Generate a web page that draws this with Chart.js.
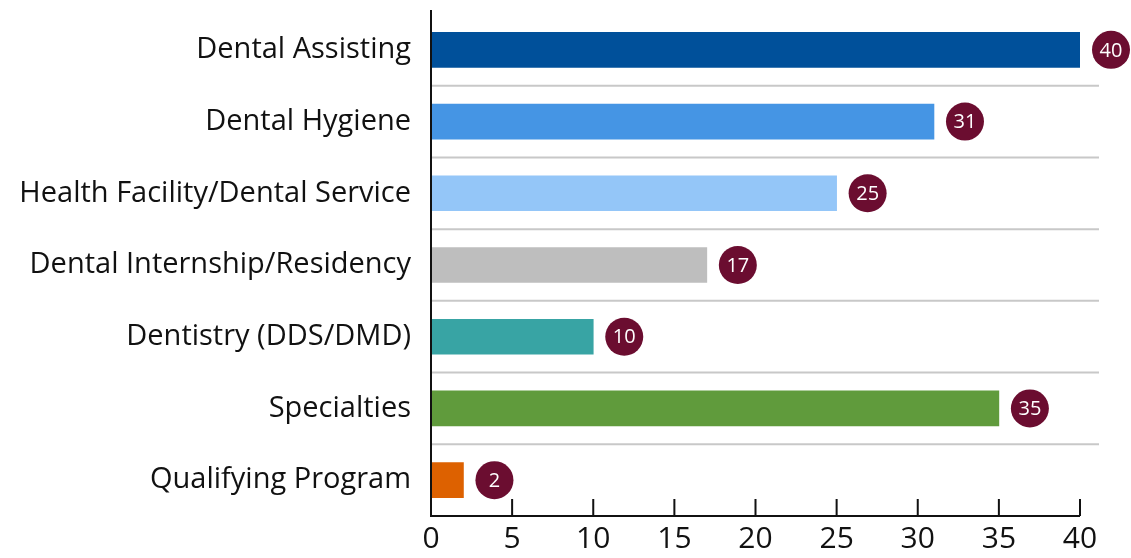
<!DOCTYPE html>
<html lang="en">
<head>
    <meta charset="UTF-8">
    <title>Dental programs</title>
    <script src="https://cdn.jsdelivr.net/npm/chart.js"></script>
    <style>
        html, body { margin: 0; padding: 0; background: #fff; }
        #wrap { width: 1131px; height: 558px; }
    </style>
</head>
<body>
    <div id="wrap"><canvas id="barChart"></canvas></div>
    <script>
        const categories = ['Dental Assisting', 'Dental Hygiene', 'Health Facility/Dental Service',
            'Dental Internship/Residency', 'Dentistry (DDS/DMD)', 'Specialties', 'Qualifying Program'];
        const counts = [40, 31, 25, 17, 10, 35, 2];
        const barColors = ['#00509a', '#4595e4', '#94c6f8', '#bebebe', '#38a4a4', '#609b3c', '#dd6100'];
        const xTicks = [0, 5, 10, 15, 20, 25, 30, 35, 40];

        const FONT = '"Open Sans", sans-serif';

        // separators between categories, axis line with inward ticks, value badges
        const extras = {
            id: 'extras',
            beforeDatasetsDraw(chart) {
                const { ctx, chartArea, scales } = chart;
                const y = scales.y;
                ctx.save();
                ctx.strokeStyle = '#c8c8c8';
                ctx.lineWidth = 2;
                for (let i = 0; i < categories.length - 1; i++) {
                    const py = (y.getPixelForTick(i) + y.getPixelForTick(i + 1)) / 2;
                    ctx.beginPath();
                    ctx.moveTo(chartArea.left, py);
                    ctx.lineTo(chartArea.right + 19, py);
                    ctx.stroke();
                }
                ctx.restore();
            },
            afterDatasetsDraw(chart) {
                const { ctx, chartArea, scales } = chart;
                const x = scales.x;
                ctx.save();
                ctx.strokeStyle = '#111';
                ctx.lineWidth = 2;
                ctx.beginPath();
                ctx.moveTo(chartArea.left, chartArea.top - 4);
                ctx.lineTo(chartArea.left, chartArea.bottom);
                ctx.lineTo(x.getPixelForValue(40), chartArea.bottom);
                xTicks.forEach(v => {
                    const px = x.getPixelForValue(v);
                    ctx.moveTo(px, chartArea.bottom);
                    ctx.lineTo(px, chartArea.bottom - 17);
                });
                ctx.stroke();

                const meta = chart.getDatasetMeta(0);
                meta.data.forEach((bar, i) => {
                    const cx = bar.x + 31;
                    ctx.beginPath();
                    ctx.fillStyle = '#6b0d30';
                    ctx.arc(cx, bar.y, 19, 0, Math.PI * 2);
                    ctx.fill();
                    ctx.fillStyle = '#fff';
                    ctx.font = '20px ' + FONT;
                    ctx.textAlign = 'center';
                    ctx.textBaseline = 'middle';
                    ctx.fillText(counts[i], cx, bar.y + 1);
                });
                ctx.restore();
            }
        };

        new Chart(document.getElementById('barChart'), {
            type: 'bar',
            data: {
                labels: categories,
                datasets: [{
                    data: counts,
                    backgroundColor: barColors,
                    barThickness: 35
                }]
            },
            options: {
                indexAxis: 'y',
                responsive: true,
                maintainAspectRatio: false,
                animation: false,
                layout: { padding: { top: 14, right: 51, left: 0, bottom: -4 } },
                plugins: { legend: { display: false }, tooltip: { enabled: false } },
                scales: {
                    x: {
                        min: 0,
                        max: 40,
                        grid: { display: false, drawTicks: false },
                        border: { display: false },
                        afterFit(scale) { scale.paddingLeft = 0; scale.paddingRight = 0; },
                        ticks: { stepSize: 5, padding: 5, color: '#111', font: { family: FONT, size: 30, lineHeight: 1.2 } }
                    },
                    y: {
                        grid: { display: false, drawTicks: false },
                        border: { display: false },
                        afterFit(scale) { scale.width = 431; scale.paddingTop = 0; scale.paddingBottom = 0; },
                        ticks: { padding: 20, color: '#111', font: { family: FONT, size: 29 } }
                    }
                }
            },
            plugins: [extras]
        });
    </script>
</body>
</html>
